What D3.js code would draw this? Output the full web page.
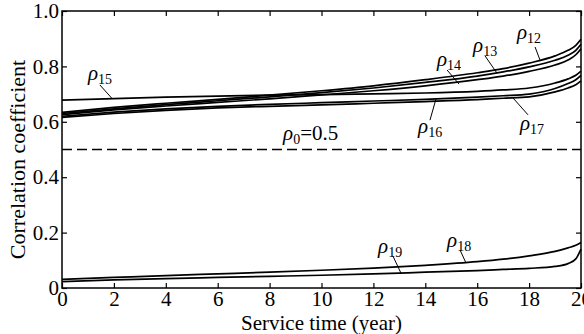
<!DOCTYPE html>
<html>
<head>
<meta charset="utf-8">
<script src="https://cdn.jsdelivr.net/npm/d3@7"></script>
<style>
  body { margin: 0; background: #fff; }
</style>
</head>
<body>
<div id="chart"></div>
<script>
// service time (year)
const years = [0, 2, 4, 6, 8, 10, 12, 14, 16, 17, 18, 19, 19.5, 19.8, 20];

const rho12 = [0.634, 0.652, 0.667, 0.681, 0.696, 0.712, 0.730, 0.752, 0.777, 0.792, 0.812, 0.838, 0.858, 0.876, 0.898];
const rho13 = [0.630, 0.647, 0.662, 0.676, 0.690, 0.705, 0.722, 0.742, 0.765, 0.780, 0.798, 0.822, 0.840, 0.858, 0.880];
const rho14 = [0.626, 0.643, 0.657, 0.670, 0.683, 0.697, 0.712, 0.730, 0.752, 0.765, 0.782, 0.805, 0.823, 0.842, 0.864];
const rho15 = [0.678, 0.684, 0.689, 0.693, 0.696, 0.698, 0.701, 0.704, 0.710, 0.715, 0.722, 0.740, 0.755, 0.768, 0.783];
const rho16 = [0.620, 0.635, 0.647, 0.656, 0.663, 0.669, 0.675, 0.681, 0.689, 0.694, 0.700, 0.720, 0.738, 0.752, 0.768];
const rho17 = [0.616, 0.630, 0.641, 0.650, 0.656, 0.661, 0.667, 0.673, 0.680, 0.685, 0.690, 0.708, 0.722, 0.734, 0.748];
const rho18 = [0.031, 0.038, 0.045, 0.051, 0.057, 0.064, 0.072, 0.082, 0.095, 0.104, 0.116, 0.132, 0.145, 0.154, 0.164];
const rho19 = [0.023, 0.029, 0.034, 0.038, 0.042, 0.046, 0.051, 0.057, 0.063, 0.067, 0.071, 0.078, 0.088, 0.105, 0.140];

const rhoLimit = 0.5;

const xTicks = [0, 2, 4, 6, 8, 10, 12, 14, 16, 18, 20];
const yTicks = [0, 0.2, 0.4, 0.6, 0.8, 1.0];
const yTickLabels = ['0', '0.2', '0.4', '0.6', '0.8', '1.0'];

// curve labels: subscript, label anchor, pointer start -> pointer end (data units)
const labels = [
  { sub: '12', at: [17.53, 0.899], from: [18.23, 0.870], to: [18.42, 0.823] },
  { sub: '13', at: [15.84, 0.852], from: [16.30, 0.838], to: [16.76, 0.776] },
  { sub: '14', at: [14.45, 0.801], from: [14.84, 0.787], to: [15.30, 0.736] },
  { sub: '15', at: [1.00, 0.751],  from: [1.46, 0.733],  to: [1.93, 0.684] },
  { sub: '16', at: [13.72, 0.560], from: [14.18, 0.606], to: [14.41, 0.682] },
  { sub: '17', at: [17.65, 0.570], from: [17.96, 0.625], to: [17.38, 0.686] },
  { sub: '18', at: [14.84, 0.148], from: [15.34, 0.137], to: [15.57, 0.090] },
  { sub: '19', at: [12.18, 0.126], from: [12.75, 0.116], to: [13.06, 0.054] }
];

const serif = "'Liberation Serif', serif";
const width = 584, height = 334;
const x = d3.scaleLinear().domain([0, 20]).range([62, 581]);
const y = d3.scaleLinear().domain([0, 1]).range([288, 11]);

const svg = d3.select('#chart').append('svg')
  .attr('width', width)
  .attr('height', height);

// inward ticks on all four sides
const tickLen = 5;
svg.append('g').attr('transform', `translate(0,${y(0)})`)
  .call(d3.axisBottom(x).tickValues(xTicks).tickSizeInner(-tickLen).tickSizeOuter(0).tickFormat(d3.format('d')))
  .call(g => g.select('.domain').remove())
  .call(g => g.selectAll('line').attr('stroke', '#000').attr('stroke-width', 1.2))
  .call(g => g.selectAll('text').attr('dy', '0.71em').attr('y', 3).style('font-size', '21px'));

svg.append('g').attr('transform', `translate(0,${y(1)})`)
  .call(d3.axisTop(x).tickValues(xTicks).tickSizeInner(-tickLen).tickSizeOuter(0).tickFormat(''))
  .call(g => g.select('.domain').remove())
  .call(g => g.selectAll('line').attr('stroke', '#000').attr('stroke-width', 1.2));

svg.append('g').attr('transform', `translate(${x(0)},0)`)
  .call(d3.axisLeft(y).tickValues(yTicks).tickSizeInner(-tickLen).tickSizeOuter(0)
    .tickFormat((d, i) => yTickLabels[i]))
  .call(g => g.select('.domain').remove())
  .call(g => g.selectAll('line').attr('stroke', '#000').attr('stroke-width', 1.2))
  .call(g => g.selectAll('text').attr('x', -3).style('font-size', '21px'));

svg.append('g').attr('transform', `translate(${x(20)},0)`)
  .call(d3.axisRight(y).tickValues(yTicks).tickSizeInner(-tickLen).tickSizeOuter(0).tickFormat(''))
  .call(g => g.select('.domain').remove())
  .call(g => g.selectAll('line').attr('stroke', '#000').attr('stroke-width', 1.2));

// frame
svg.append('rect')
  .attr('x', x(0)).attr('y', y(1))
  .attr('width', x(20) - x(0)).attr('height', y(0) - y(1))
  .attr('fill', 'none').attr('stroke', '#000').attr('stroke-width', 1.5);

// limit line
svg.append('line')
  .attr('x1', x(0)).attr('x2', x(20))
  .attr('y1', y(rhoLimit)).attr('y2', y(rhoLimit))
  .attr('stroke', '#000').attr('stroke-width', 1.5)
  .attr('stroke-dasharray', '10,5');

const line = d3.line()
  .x((d, i) => x(years[i]))
  .y(d => y(d))
  .curve(d3.curveMonotoneX);

const series = [rho12, rho13, rho14, rho15, rho16, rho17, rho18, rho19];
svg.append('g').selectAll('path')
  .data(series)
  .join('path')
  .attr('d', line)
  .attr('fill', 'none')
  .attr('stroke', '#000')
  .attr('stroke-width', 1.7);

// curve labels and pointers
const ann = svg.append('g');
labels.forEach(l => {
  ann.append('line')
    .attr('x1', x(l.from[0])).attr('y1', y(l.from[1]))
    .attr('x2', x(l.to[0])).attr('y2', y(l.to[1]))
    .attr('stroke', '#000').attr('stroke-width', 1);
  const t = ann.append('text')
    .attr('x', x(l.at[0])).attr('y', y(l.at[1]))
    .style('font-size', '21px');
  t.append('tspan').style('font-style', 'italic').text('ρ');
  t.append('tspan').attr('dy', 4).style('font-size', '14px').text(l.sub);
});

const r0 = ann.append('text')
  .attr('x', x(8.52)).attr('y', y(0.534))
  .style('font-size', '21px');
r0.append('tspan').style('font-style', 'italic').text('ρ');
r0.append('tspan').attr('dy', 4).style('font-size', '14px').text('0');
r0.append('tspan').attr('dy', -4).text('=' + rhoLimit);

// axis titles
svg.append('text')
  .attr('x', x(10)).attr('y', 330)
  .attr('text-anchor', 'middle')
  .style('font-size', '21px')
  .text('Service time (year)');

svg.append('text')
  .attr('transform', `translate(25,${(y(0) + y(1)) / 2 + 10}) rotate(-90)`)
  .attr('text-anchor', 'middle')
  .style('font-size', '22px')
  .text('Correlation coefficient');

// serif everywhere, set inline so the axis defaults do not win
svg.selectAll('text').style('font-family', serif).attr('fill', '#000');
</script>
</body>
</html>
